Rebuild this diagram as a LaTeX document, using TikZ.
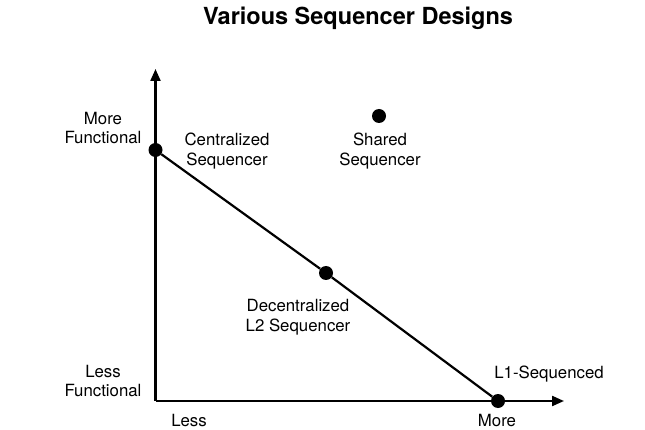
\documentclass[tikz,border=0pt]{standalone}
\usepackage{fontspec}
\setmainfont{TeX Gyre Heros}
\usetikzlibrary{arrows.meta}
\begin{document}
\begin{tikzpicture}[x=1pt,y=-1pt,
  lbl/.style={font=\fontsize{16.8}{19.5}\selectfont, align=center, inner sep=0pt},
  dot/.style={circle, fill=black, minimum size=14pt, inner sep=0pt},
  axis/.style={line width=2.2pt, -{Triangle[length=12pt,width=10pt]}},
  link/.style={line width=2.2pt}]
\useasboundingbox (0,0) rectangle (645,430);
\node[font=\fontsize{23.5}{28}\selectfont\bfseries, inner sep=0pt] (title) at (358,18) {Various Sequencer Designs};
\coordinate (o) at (155.5,401);
\coordinate (ytip) at (155.5,69);
\coordinate (xtip) at (564,401);
\draw[axis] (o) -- (ytip);
\draw[axis] (o) -- (xtip);
\node[dot] (cen) at (155.5,150) {};
\node[dot] (dec) at (326,273) {};
\node[dot] (l1) at (498,401) {};
\node[dot] (sh) at (379,116) {};
\draw[link] (cen) -- (dec);
\draw[link] (dec) -- (l1);
\node[lbl] (mf) at (103,128) {More\\Functional};
\node[lbl] (lf) at (103,381) {Less\\Functional};
\node[lbl] (cl) at (227,151) {Centralized\\Sequencer};
\node[lbl] (sl) at (380,151) {Shared\\Sequencer};
\node[lbl] (dl) at (298,317) {Decentralized\\L2 Sequencer};
\node[lbl] (l1l) at (549,374) {L1-Sequenced};
\node[lbl] (less) at (189,421) {Less};
\node[lbl] (more) at (497,421) {More};
\end{tikzpicture}
\end{document}
